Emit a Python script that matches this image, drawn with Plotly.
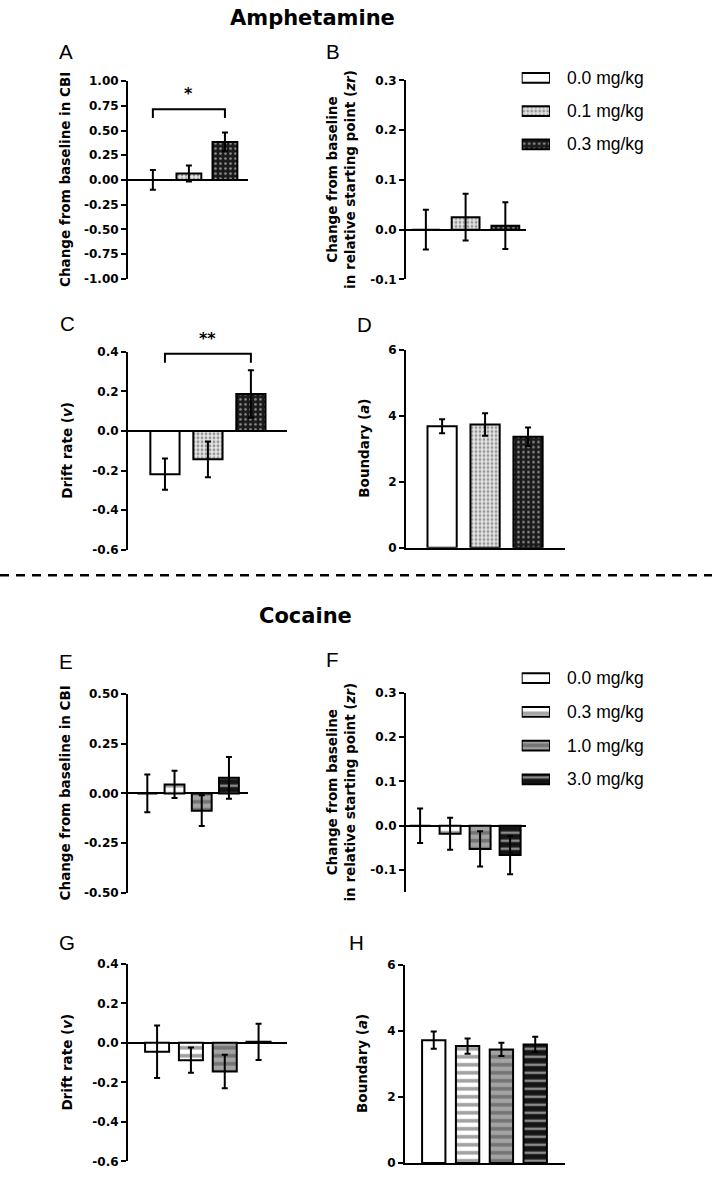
import plotly.graph_objects as go

W, H = 712, 1177

# ---------------- data ----------------
amph_doses = ["0.0 mg/kg", "0.1 mg/kg", "0.3 mg/kg"]
coc_doses = ["0.0 mg/kg", "0.3 mg/kg", "1.0 mg/kg", "3.0 mg/kg"]

amph_cbi = [0.0, 0.065, 0.385]
amph_cbi_sem = [0.10, 0.08, 0.095]
amph_zr = [0.0, 0.025, 0.008]
amph_zr_sem = [0.04, 0.047, 0.047]
amph_v = [-0.218, -0.143, 0.187]
amph_v_sem = [0.079, 0.09, 0.12]
amph_a = [3.68, 3.73, 3.36]
amph_a_sem = [0.21, 0.34, 0.28]

coc_cbi = [0.0, 0.045, -0.087, 0.078]
coc_cbi_sem = [0.095, 0.068, 0.077, 0.105]
coc_zr = [0.0, -0.018, -0.052, -0.066]
coc_zr_sem = [0.039, 0.036, 0.04, 0.043]
coc_v = [-0.045, -0.088, -0.145, 0.005]
coc_v_sem = [0.133, 0.064, 0.085, 0.092]
coc_a = [3.72, 3.54, 3.44, 3.59]
coc_a_sem = [0.26, 0.23, 0.20, 0.23]

ticks_cbi_amph = [-1.0, -0.75, -0.5, -0.25, 0.0, 0.25, 0.5, 0.75, 1.0]
ticks_cbi_coc = [-0.5, -0.25, 0.0, 0.25, 0.5]
ticks_zr = [-0.1, 0.0, 0.1, 0.2, 0.3]
ticks_v = [-0.6, -0.4, -0.2, 0.0, 0.2, 0.4]
ticks_a = [0, 2, 4, 6]

# significance brackets: panel, bar i, bar j, bracket level, end level, label, label level
sig_panels = ["A", "C"]
sig_i = [0, 0]
sig_j = [2, 2]
sig_top = [0.715, 0.39]
sig_end = [0.627, 0.345]
sig_label = ["*", "**"]
sig_label_y = [0.87, 0.465]

# ---------------- styles ----------------
amph_style = dict(color=["white", "#e6e6e6", "#1a1a1a"], shape=["", ".", "."],
                  fg=["black", "#606060", "#e8e8e8"], size=[4, 4, 5], solidity=[0.3, 0.4, 0.22])
coc_style = dict(color=["white", "white", "#a3a3a3", "#141414"], shape=["", "-", "-", "-"],
                 fg=["black", "black", "black", "#7a7a7a"], size=[8, 8, 8, 8], solidity=[0.4, 0.45, 0.45, 0.32])

BOLD = "DejaVu Sans"
REG = "Liberation Sans"


def px(x):
    return x / W


def py(y):
    return 1 - y / H


def fmt(vals, d):
    return [f"{v:.{d}f}" for v in vals]


panels = [
    dict(key="A", m=amph_cbi, s=amph_cbi_sem, st=amph_style, t=ticks_cbi_amph, d=2, x=(128, 248), y=(75, 275),
         yr=[-1, 1], xr=[-0.69, 2.64], bw=0.69, title="Change from baseline in CBI", tx=65, let=(66, 45.5), base=False),
    dict(key="B", m=amph_zr, s=amph_zr_sem, st=amph_style, t=ticks_zr, d=1, x=(406, 526), y=(74.3, 275.7),
         yr=[-0.1, 0.3], xr=[-0.5, 2.52], bw=0.7,
         title="Change from baseline<br>in relative starting point (<i>zr</i>)", tx=341, let=(333, 45), base=False),
    dict(key="C", m=amph_v, s=amph_v_sem, st=amph_style, t=ticks_v, d=1, x=(128, 287), y=(349, 549.3),
         yr=[-0.6, 0.4], xr=[-0.86, 2.84], bw=0.68, title="Drift rate (<i>v</i>)", tx=67, let=(67, 320), base=False),
    dict(key="D", m=amph_a, s=amph_a_sem, st=amph_style, t=ticks_a, d=0, x=(406, 565), y=(346.7, 547.3),
         yr=[0, 6], xr=[-0.84, 2.86], bw=0.68, title="Boundary (<i>a</i>)", tx=364, let=(364, 321), base=True),
    dict(key="E", m=coc_cbi, s=coc_cbi_sem, st=coc_style, t=ticks_cbi_coc, d=2, x=(128, 248), y=(695, 896.7),
         yr=[-0.5, 0.5], xr=[-0.71, 3.7], bw=0.73, title="Change from baseline in CBI", tx=65, let=(66, 662), base=False),
    dict(key="F", m=coc_zr, s=coc_zr_sem, st=coc_style, t=ticks_zr, d=1, x=(406, 526), y=(694, 896),
         yr=[-0.15, 0.3], xr=[-0.47, 3.53], bw=0.7,
         title="Change from baseline<br>in relative starting point (<i>zr</i>)", tx=341, let=(332, 660), base=False),
    dict(key="G", m=coc_v, s=coc_v_sem, st=coc_style, t=ticks_v, d=1, x=(128, 287), y=(968.3, 1168.3),
         yr=[-0.6, 0.4], xr=[-0.86, 3.84], bw=0.71, title="Drift rate (<i>v</i>)", tx=67, let=(67, 947), base=False),
    dict(key="H", m=coc_a, s=coc_a_sem, st=coc_style, t=ticks_a, d=0, x=(405, 565), y=(969.3, 1170),
         yr=[0, 6], xr=[-0.85, 3.88], bw=0.69, title="Boundary (<i>a</i>)", tx=362, let=(356, 947), base=True),
]

fig = go.Figure()
layout = dict(width=W, height=H, margin=dict(l=0, r=0, t=0, b=0), paper_bgcolor="white",
              plot_bgcolor="white", showlegend=False)
annotations = []
shapes = []


def pattern_marker(st, n):
    return dict(color=st["color"][:n], line=dict(color="black", width=2),
                pattern=dict(shape=st["shape"][:n], fgcolor=st["fg"][:n], size=st["size"][:n],
                             solidity=st["solidity"][:n], fillmode="overlay"))


def data_to_paper_y(p, v):
    top, bot = p["y"]
    lo, hi = p["yr"]
    ypx = bot - (v - lo) / (hi - lo) * (bot - top)
    return py(ypx)


for k, p in enumerate(panels, start=1):
    n = len(p["m"])
    xa, ya = f"x{k}", f"y{k}"
    fig.add_trace(go.Bar(x=list(range(n)), y=p["m"], width=p["bw"], marker=pattern_marker(p["st"], n),
                         error_y=dict(type="data", array=p["s"], color="black", thickness=2, width=3),
                         xaxis=xa, yaxis=ya, showlegend=False, hoverinfo="skip"))
    layout[f"xaxis{k}"] = dict(domain=[px(p["x"][0]), px(p["x"][1])], range=p["xr"], anchor=ya,
                               showline=p["base"], linewidth=2, linecolor="black", showgrid=False,
                               zeroline=False, showticklabels=False, ticks="", fixedrange=True)
    layout[f"yaxis{k}"] = dict(domain=[py(p["y"][1]), py(p["y"][0])], range=p["yr"], anchor=xa,
                               showline=True, linewidth=2, linecolor="black", ticks="outside",
                               ticklen=5, tickwidth=2, tickcolor="black", tickvals=p["t"],
                               ticktext=fmt(p["t"], p["d"]),
                               tickfont=dict(family=BOLD, size=12, color="black", weight="bold"),
                               showgrid=False, zeroline=not p["base"], zerolinewidth=2,
                               zerolinecolor="black", fixedrange=True)
    annotations.append(dict(text=p["title"], x=px(p["tx"]), y=py((p["y"][0] + p["y"][1]) / 2),
                            xref="paper", yref="paper", textangle=-90, showarrow=False,
                            xanchor="center", yanchor="middle",
                            font=dict(family=BOLD, size=13.5, color="black", weight="bold")))
    annotations.append(dict(text=p["key"], x=px(p["let"][0]), y=py(p["let"][1]), xref="paper", yref="paper",
                            showarrow=False, xanchor="center", yanchor="middle",
                            font=dict(family=REG, size=20.5, color="black")))

keys = [p["key"] for p in panels]
for pk, i, j, top, end, lab, ly in zip(sig_panels, sig_i, sig_j, sig_top, sig_end, sig_label, sig_label_y):
    k = keys.index(pk) + 1
    p = panels[k - 1]
    fig.add_trace(go.Scatter(x=[i, i, j, j], y=[end, top, top, end], mode="lines",
                             line=dict(color="black", width=2), xaxis=f"x{k}", yaxis=f"y{k}",
                             showlegend=False, hoverinfo="skip", cliponaxis=False))
    annotations.append(dict(text=lab, x=(i + j) / 2, y=data_to_paper_y(p, ly), xref=f"x{k}", yref="paper",
                            showarrow=False, xanchor="center", yanchor="middle",
                            font=dict(family=BOLD, size=16, color="black", weight="bold")))

legends = [
    dict(names=amph_doses, st=amph_style, x=(521.7, 550), centers_top=71.7, step=33.7),
    dict(names=coc_doses, st=coc_style, x=(521.7, 550), centers_top=679.3, step=34.1),
]
for li, lg in enumerate(legends, start=9):
    n = len(lg["names"])
    top = lg["centers_top"] - lg["step"] / 2
    bot = top + lg["step"] * n
    fig.add_trace(go.Bar(x=[1] * n, y=list(range(n)), base=0, orientation="h", width=0.29,
                         marker=pattern_marker(lg["st"], n), xaxis=f"x{li}", yaxis=f"y{li}",
                         showlegend=False, hoverinfo="skip"))
    layout[f"xaxis{li}"] = dict(domain=[px(lg["x"][0]), px(lg["x"][1])], range=[0, 1], visible=False,
                                anchor=f"y{li}", fixedrange=True)
    layout[f"yaxis{li}"] = dict(domain=[py(bot), py(top)], range=[n - 0.5, -0.5], visible=False,
                                anchor=f"x{li}", fixedrange=True)
    for idx, name in enumerate(lg["names"]):
        annotations.append(dict(text=name, x=px(565), y=idx, xref="paper", yref=f"y{li}", showarrow=False,
                                xanchor="left", yanchor="middle",
                                font=dict(family=REG, size=17.5, color="black")))

annotations.append(dict(text="Amphetamine", x=px(312.5), y=py(11), xref="paper", yref="paper", showarrow=False,
                        xanchor="center", yanchor="middle",
                        font=dict(family=BOLD, size=21, color="black", weight="bold")))
annotations.append(dict(text="Cocaine", x=px(305), y=py(616), xref="paper", yref="paper", showarrow=False,
                        xanchor="center", yanchor="middle",
                        font=dict(family=BOLD, size=21, color="black", weight="bold")))

shapes.append(dict(type="line", xref="paper", yref="paper", x0=0, x1=1, y0=py(575), y1=py(575),
                   line=dict(color="black", width=2.5, dash="9px,7px")))

layout["annotations"] = annotations
layout["shapes"] = shapes
fig.update_layout(**layout)
fig.write_html("out.html", config={"displayModeBar": False, "staticPlot": True},
               post_script="document.body.style.margin='0';document.body.style.overflow='hidden';")
